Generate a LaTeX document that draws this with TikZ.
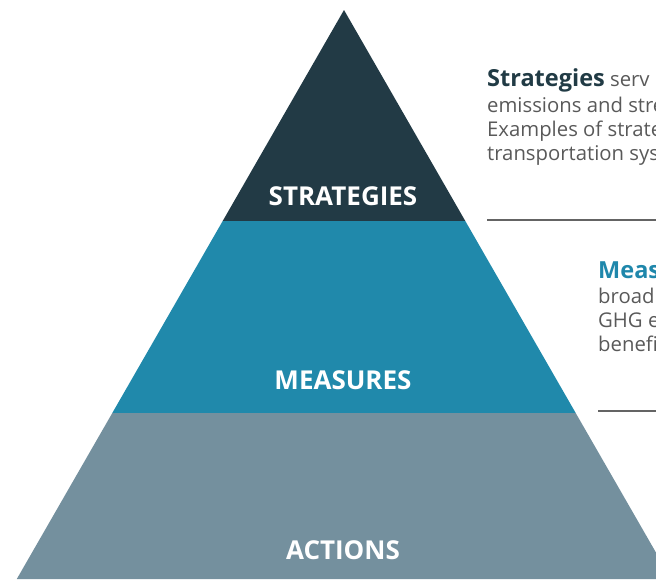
\documentclass[tikz,border=0pt]{standalone}
\usepackage{fontspec}
\setmainfont{Open Sans}
\begin{document}
\begin{tikzpicture}[x=1pt,y=1pt,yscale=-1,xscale=1,
  layerlabel/.style={color=white,font=\bfseries\fontsize{26}{26}\selectfont},
  bodytext/.style={anchor=base west,inner sep=0pt,color={rgb, 255:red, 89; green, 89; blue, 89},font=\fontsize{20.3}{24}\selectfont},
  rulerline/.style={color={rgb, 255:red, 100; green, 100; blue, 100},line width=1.2pt}]
\useasboundingbox (0,0) rectangle (656,579);
\clip (0,0) rectangle (656,579);

%Shape: Triangle [top layer]
\fill [color={rgb, 255:red, 34; green, 58; blue, 69 }] (344,10) -- (465.3,221) -- (222.7,221) -- cycle ;
%Shape: Trapezoid [middle layer]
\fill [color={rgb, 255:red, 32; green, 137; blue, 171 }] (222.7,221) -- (465.3,221) -- (575.7,413) -- (112.3,413) -- cycle ;
%Shape: Trapezoid [bottom layer]
\fill [color={rgb, 255:red, 116; green, 144; blue, 158 }] (112.3,413) -- (575.7,413) -- (671.2,579) -- (16.8,579) -- cycle ;

% Text Node
\node (strategies) [layerlabel] at (343,196) {STRATEGIES};
% Text Node
\node (measures) [layerlabel] at (343,380) {MEASURES};
% Text Node
\node (actions) [layerlabel] at (343,550) {ACTIONS};

% Text Node
\node (stratlineA) [bodytext] at (487,86) {\textcolor[rgb]{0.13,0.23,0.27}{\bfseries\fontsize{23.5}{24}\selectfont Strategies} serv};
% Text Node
\node (stratlineB) [bodytext] at (487,112) {emissions and stre};
% Text Node
\node (stratlineC) [bodytext] at (487,136) {Examples of strate};
% Text Node
\node (stratlineD) [bodytext] at (487,160) {transportation sys};
%Straight Lines
\coordinate (ruleAstart) at (487,220);
\coordinate (ruleAend) at (656,220);
\draw [rulerline] (ruleAstart) -- (ruleAend) ;

% Text Node
\node (measlineA) [bodytext] at (598,278) {\textcolor[rgb]{0.12,0.53,0.67}{\bfseries\fontsize{23.5}{24}\selectfont Meas}};
% Text Node
\node (measlineB) [bodytext] at (598,303) {broad};
% Text Node
\node (measlineC) [bodytext] at (598,327) {GHG e};
% Text Node
\node (measlineD) [bodytext] at (598,351) {benefi};
%Straight Lines
\coordinate (ruleBstart) at (598,411);
\coordinate (ruleBend) at (656,411);
\draw [rulerline] (ruleBstart) -- (ruleBend) ;

\end{tikzpicture}
\end{document}
